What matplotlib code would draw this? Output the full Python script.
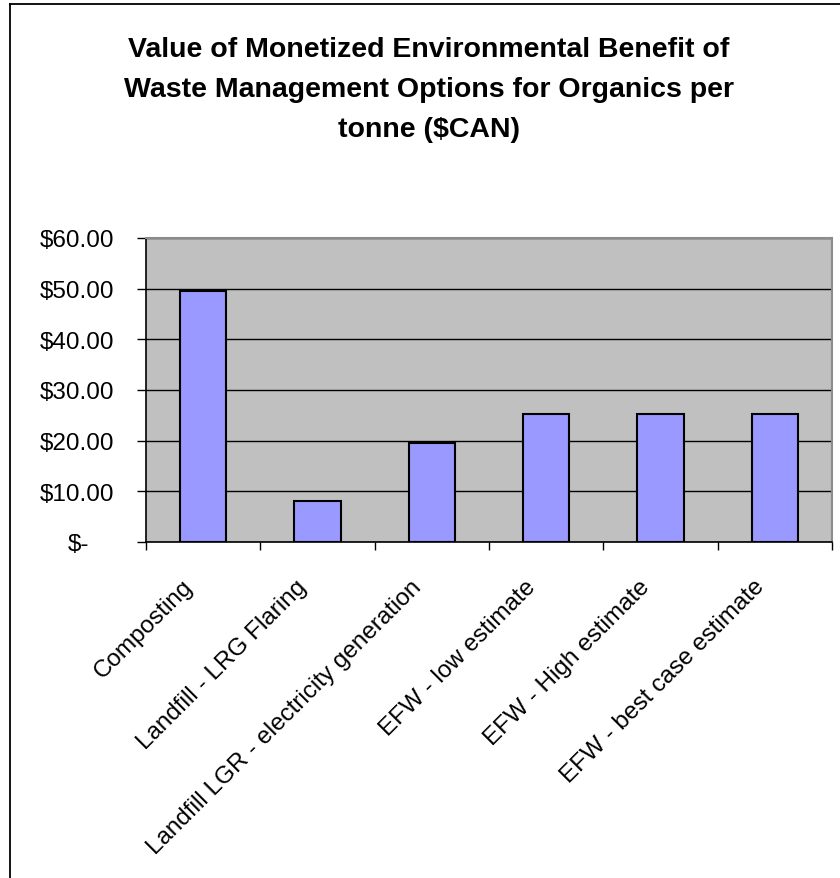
import matplotlib
matplotlib.use("Agg")
import matplotlib.pyplot as plt
from matplotlib.lines import Line2D
from matplotlib.transforms import ScaledTranslation

categories = ["Composting", "Landfill - LRG Flaring", "Landfill LGR - electricity generation",
              "EFW - low estimate", "EFW - High estimate", "EFW - best case estimate"]
values = [49.5, 8.0, 19.5, 25.2, 25.2, 25.2]
yticks = [0, 10, 20, 30, 40, 50, 60]
ytick_labels = ["$-", "$10.00", "$20.00", "$30.00", "$40.00", "$50.00", "$60.00"]
title = "Value of Monetized Environmental Benefit of\nWaste Management Options for Organics per\ntonne ($CAN)"

plt.rcParams["font.family"] = ["Liberation Sans", "DejaVu Sans"]

W, H = 840, 879
fig = plt.figure(figsize=(W / 100, H / 100), dpi=100)
ax = fig.add_axes([146 / W, 1 - 543 / H, (832 - 146) / W, (543 - 239) / H])
ax.set_facecolor("#C0C0C0")

x = list(range(len(categories)))
ax.bar(x, values, width=0.405, color="#9999FF", edgecolor="black", linewidth=1.5, zorder=3)

ax.set_xlim(-0.5, len(categories) - 0.5)
ax.set_ylim(0, 60)
ax.set_yticks(yticks)
ax.set_yticklabels(ytick_labels)
ax.yaxis.grid(True, color="black", linewidth=1.0, zorder=1)
ax.set_axisbelow(True)

ax.set_xticks(x)
ax.set_xticklabels(categories, rotation=45, ha="right", va="center", rotation_mode="anchor")
ax.tick_params(axis="x", which="major", length=0, pad=29.5, labelsize=17.5)
ax.set_xticks([i - 0.5 for i in range(len(categories) + 1)], minor=True)
ax.tick_params(axis="x", which="minor", length=6, width=1, direction="out", color="black")
ax.tick_params(axis="y", length=6.5, width=1, direction="out", pad=16, labelsize=17.5)

for lab in ax.get_xticklabels():
    lab.set_transform(lab.get_transform() + ScaledTranslation(-14 / 100, 0, fig.dpi_scale_trans))

for s in ["left", "bottom"]:
    ax.spines[s].set_color("black")
    ax.spines[s].set_linewidth(1.2)
for s in ["top", "right"]:
    ax.spines[s].set_color("#8C8C8C")
    ax.spines[s].set_linewidth(1.5)

# accounting-format padding for zero label
lab0 = ax.get_yticklabels()[0]
lab0.set_transform(lab0.get_transform() + ScaledTranslation(-25 / 100, 0, fig.dpi_scale_trans))

fig.text(429 / W, 1 - 37 / H, title, ha="center", va="top", fontsize=20.5, fontweight="bold",
         linespacing=1.71, multialignment="center")

# chart border (top and left visible)
fig.add_artist(Line2D([9.5 / W, 1.0], [1 - 5 / H, 1 - 5 / H], color="black", linewidth=1.3))
fig.add_artist(Line2D([9.5 / W, 9.5 / W], [0, 1 - 5 / H], color="black", linewidth=1.3))

fig.savefig("out.png", dpi=100)
